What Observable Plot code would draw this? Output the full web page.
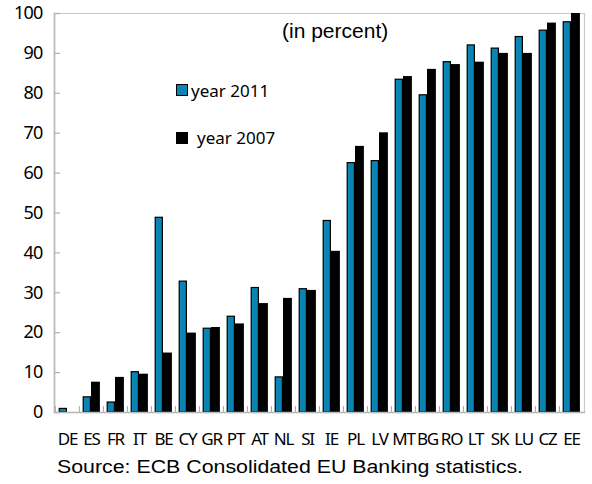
<!DOCTYPE html>
<html>
<head>
<meta charset="utf-8">
<script src="https://cdn.jsdelivr.net/npm/d3@7"></script>
<script src="https://cdn.jsdelivr.net/npm/@observablehq/plot@0.6"></script>
<style>
  html, body { margin: 0; padding: 0; background: #fff; }
  #wrap { position: relative; width: 592px; height: 484px; overflow: hidden; }
  #wrap svg { position: absolute; left: 0; top: 0; }
  .ov { position: absolute; white-space: nowrap; line-height: 1; color: #000; }
  .sw { position: absolute; box-sizing: border-box; }
  svg g[aria-label="x-axis tick label"] { font-size: 17px; }
  svg g[aria-label="x-axis tick label"] text { letter-spacing: -1.2px; }
  svg g[aria-label="y-axis tick label"] { font-size: 18px; }
  svg g[aria-label="y-axis tick label"] text { letter-spacing: -0.8px; }
</style>
</head>
<body>
<div id="wrap"></div>
<script>
const countries = ["DE","ES","FR","IT","BE","CY","GR","PT","AT","NL","SI","IE","PL","LV","MT","BG","RO","LT","SK","LU","CZ","EE"];
const y2011 = [0.9, 3.8, 2.5, 10.1, 48.8, 32.8, 21.0, 24.0, 31.2, 8.8, 30.9, 48.0, 62.5, 63.0, 83.4, 79.5, 87.8, 92.0, 91.2, 94.1, 95.7, 97.8];
const y2007 = [0, 7.6, 8.8, 9.6, 14.9, 19.9, 21.3, 22.2, 27.3, 28.6, 30.6, 40.4, 66.7, 70.1, 84.2, 86.0, 87.2, 87.8, 90.0, 90.0, 97.6, 100];
const yTicks = [0, 10, 20, 30, 40, 50, 60, 70, 80, 90, 100];
const seriesLabels = ["year 2011", "year 2007"];
const seriesColors = ["#0b84b4", "#000000"];
const title = "(in percent)";
const source = "Source: ECB Consolidated EU Banking statistics.";

const data = countries.map((c, i) => ({country: c, v2011: y2011[i], v2007: y2007[i]}));

const W = 592, H = 452, mL = 54, mR = 8, mT = 13, mB = 40;
const plotW = W - mL - mR, plotH = H - mT - mB;
const bw = plotW / countries.length;

const chart = Plot.plot({
  width: W, height: H,
  marginLeft: mL, marginRight: mR, marginTop: mT, marginBottom: mB,
  x: {domain: countries, padding: 0, label: null},
  y: {domain: [0, 100], label: null},
  style: {fontFamily: "'Noto Sans', sans-serif", background: "white", color: "#000"},
  marks: [
    Plot.frame({stroke: "#cccccc", strokeWidth: 1.2}),
    Plot.barY(data, {x: "country", y: "v2007", fill: seriesColors[1], insetLeft: 12, insetRight: 3.1}),
    Plot.barY(data, {x: "country", y: "v2011", fill: seriesColors[0], stroke: "#000", strokeWidth: 1.2, insetLeft: 4.2, insetRight: 12.6}),
    Plot.tickX(countries, {x: d => d, dx: -bw / 2, insetTop: plotH - 6, stroke: "#b0b0b0", strokeWidth: 1.2}),
    Plot.tickY(yTicks, {y: d => d, insetRight: plotW - 6, stroke: "#b0b0b0", strokeWidth: 1.2}),
    Plot.frame({anchor: "left", stroke: "#b8b8b8", strokeWidth: 1.6}),
    Plot.frame({anchor: "bottom", stroke: "#b8b8b8", strokeWidth: 1.4}),
    Plot.axisY({ticks: yTicks, tickSize: 0, tickPadding: 12, fontSize: 18, label: null}),
    Plot.axisX({tickSize: 0, tickPadding: 20, fontSize: 17, label: null})
  ]
});

const wrap = document.getElementById("wrap");
wrap.appendChild(chart);

function addText(txt, left, top, css) {
  const d = document.createElement("div");
  d.className = "ov";
  d.textContent = txt;
  d.style.left = left + "px";
  d.style.top = top + "px";
  Object.assign(d.style, css);
  wrap.appendChild(d);
  return d;
}
function addSwatch(left, top, w, h, fill, border) {
  const d = document.createElement("div");
  d.className = "sw";
  Object.assign(d.style, {left: left + "px", top: top + "px", width: w + "px", height: h + "px", background: fill, border: border});
  wrap.appendChild(d);
}

addText(title, 282, 20, {fontFamily: "'Liberation Sans', Arial, sans-serif", fontSize: "21px"});
addSwatch(176, 84, 12, 12, seriesColors[0], "1.5px solid #000");
addText(seriesLabels[0], 191, 82, {fontFamily: "'Noto Sans', sans-serif", fontSize: "17px"});
addSwatch(176, 132, 12, 12, seriesColors[1], "none");
addText(seriesLabels[1], 197, 129, {fontFamily: "'Noto Sans', sans-serif", fontSize: "17px"});
const s = addText(source, 57, 459, {fontFamily: "'Liberation Sans', Arial, sans-serif", fontSize: "17.5px", transformOrigin: "0 0"});
const sw = s.getBoundingClientRect().width;
s.style.transform = `scaleX(${466 / sw})`;
</script>
</body>
</html>
